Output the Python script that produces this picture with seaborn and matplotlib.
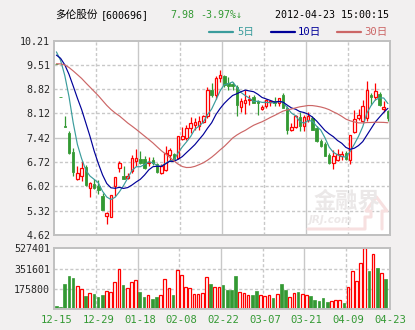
import numpy as np
import pandas as pd
import matplotlib
matplotlib.use("Agg")
import matplotlib.pyplot as plt
from matplotlib.lines import Line2D
import seaborn as sns

# Daily quotes of 600696, 2011-12-15 .. 2012-04-23
open_ = [9.53, 8.58, 7.76, 7.55, 7.01, 6.22, 6.31, 6.57, 5.96, 6.09,
         6.03, 5.74, 5.17, 5.15, 6.03, 6.55, 6.33, 6.27, 6.46, 6.74,
         6.81, 6.81, 6.68, 6.77, 6.65, 6.41, 6.48, 6.93, 6.96, 6.84,
         7.38, 7.41, 7.70, 7.79, 7.76, 7.86, 8.03, 8.79, 8.65, 9.13,
         9.19, 9.00, 8.96, 8.89, 8.30, 8.41, 8.49, 8.58, 8.46, 8.24,
         8.32, 8.44, 8.46, 8.41, 8.65, 8.27, 7.63, 7.72, 8.01, 7.76,
         7.94, 7.98, 7.70, 7.33, 7.25, 6.93, 6.69, 6.79, 6.88, 6.98,
         6.79, 7.57, 7.98, 7.89, 7.98, 8.65, 8.58, 8.67, 8.25, 8.20]
high = [9.53, 8.58, 8.05, 7.62, 7.11, 6.60, 6.74, 6.63, 6.14, 6.22,
        6.19, 5.82, 5.28, 5.78, 6.30, 6.74, 6.60, 6.41, 6.93, 7.08,
        7.03, 6.89, 6.87, 6.87, 6.69, 6.65, 7.17, 7.12, 6.98, 7.48,
        7.73, 7.79, 8.01, 7.98, 8.03, 8.08, 8.89, 8.98, 9.18, 9.37,
        9.22, 9.15, 9.03, 8.94, 8.56, 8.79, 8.65, 8.65, 8.51, 8.36,
        8.53, 8.51, 8.58, 8.56, 8.70, 8.32, 7.84, 8.08, 8.17, 8.08,
        8.17, 8.03, 7.76, 7.39, 7.29, 6.98, 7.06, 7.08, 7.03, 7.03,
        7.50, 8.22, 8.24, 8.51, 9.06, 8.70, 9.00, 8.72, 8.46, 8.22]
low = [9.53, 8.58, 7.72, 6.96, 6.31, 6.20, 6.17, 6.03, 5.72, 5.93,
       5.79, 5.33, 4.95, 5.13, 5.74, 6.44, 6.22, 6.24, 6.41, 6.60,
       6.67, 6.52, 6.60, 6.62, 6.39, 6.36, 6.45, 6.74, 6.77, 6.81,
       7.36, 7.36, 7.55, 7.65, 7.65, 7.84, 7.98, 8.60, 8.53, 9.03,
       8.89, 8.79, 8.79, 8.05, 8.17, 8.11, 8.36, 8.41, 8.08, 8.22,
       8.27, 8.32, 8.32, 8.32, 8.27, 7.52, 7.60, 7.70, 7.60, 7.60,
       7.87, 7.63, 7.29, 7.15, 6.89, 6.67, 6.52, 6.74, 6.79, 6.79,
       6.67, 7.55, 7.94, 7.86, 7.91, 8.36, 8.51, 8.32, 8.17, 7.89]
close = [9.53, 8.58, 7.72, 6.98, 6.44, 6.41, 6.55, 6.06, 6.12, 5.96,
         5.91, 5.33, 5.24, 5.76, 6.29, 6.68, 6.24, 6.31, 6.84, 6.84,
         6.69, 6.55, 6.71, 6.69, 6.43, 6.60, 6.98, 7.05, 6.81, 7.46,
         7.46, 7.70, 7.84, 7.86, 7.89, 8.03, 8.78, 8.65, 9.13, 9.22,
         8.94, 8.91, 8.91, 8.36, 8.46, 8.51, 8.53, 8.43, 8.41, 8.29,
         8.51, 8.48, 8.43, 8.56, 8.27, 7.65, 7.72, 8.05, 7.74, 8.01,
         8.03, 7.65, 7.31, 7.19, 6.90, 6.69, 6.90, 6.95, 6.95, 6.81,
         7.50, 7.95, 8.08, 8.32, 8.78, 8.58, 8.77, 8.36, 8.31, 7.98]
volume = [26000, 20000, 217000, 287000, 272000, 200000, 174000, 113000, 136000, 130000,
          107000, 122000, 156000, 148000, 232000, 348000, 209000, 180000, 232000, 252000,
          148000, 107000, 122000, 90000, 107000, 122000, 261000, 182000, 122000, 339000,
          295000, 191000, 182000, 130000, 130000, 139000, 278000, 217000, 188000, 188000,
          209000, 168000, 168000, 287000, 145000, 136000, 122000, 122000, 156000, 122000,
          110000, 122000, 96000, 127000, 217000, 168000, 104000, 139000, 148000, 127000,
          119000, 113000, 78000, 70000, 96000, 61000, 70000, 75000, 75000, 52000,
          191000, 330000, 243000, 397000, 527401, 330000, 475000, 356000, 310000, 261000]
# closes of the 29 sessions before 12-15, needed to start the moving averages
prior_close = [8.7, 8.6, 9.2, 9.4, 9.6, 9.8, 9.9, 9.8, 9.7, 9.6,
               9.5, 9.4, 9.3, 9.3, 9.2, 9.3, 9.4, 9.5, 9.6, 9.6,
               9.5, 9.6, 9.7, 9.8, 9.9, 9.8, 9.9, 10.0, 10.2]

price_ticks = [4.62, 5.32, 6.02, 6.72, 7.42, 8.12, 8.82, 9.51, 10.21]
volume_ticks = [175800, 351601, 527401]
date_labels = ["12-15", "12-29", "01-18", "02-08", "02-22",
               "03-07", "03-21", "04-09", "04-23"]
ma_windows = [5, 10, 30]

BG = "#f2f0f0"
GRID = "#c8c8c8"
FRAME = "#c0c0c0"
RED = "#ff0000"
GREEN = "#339933"
MA_COLORS = {"5日": "#3a9c9c", "10日": "#000099", "30日": "#cc6666"}
MONO = ["DejaVu Sans Mono", "Noto Sans CJK SC"]
CJK = ["Noto Sans CJK SC", "DejaVu Sans"]

sns.set_style("white")
plt.rcParams["font.family"] = ["DejaVu Sans", "Noto Sans CJK SC"]

o = np.array(open_)
h = np.array(high)
l = np.array(low)
c = np.array(close)
v = np.array(volume, dtype=float)
n = len(c)
x = np.arange(n)

prev_c = np.concatenate([[prior_close[-1]], c[:-1]])
up = (c > o) | ((c == o) & (c >= prev_c))
body_lo = np.minimum(o, c)
body_hi = np.maximum(o, c)

# moving averages
full = pd.Series(list(prior_close) + list(close))
ma_frames = []
for w in ma_windows:
    ma = full.rolling(w).mean().iloc[len(prior_close):].to_numpy()
    ma_frames.append(pd.DataFrame({"day": x, "value": ma, "series": f"{w}日"}))
ma_df = pd.concat(ma_frames, ignore_index=True)

W, H = 415, 330
fig = plt.figure(figsize=(W / 100, H / 100), dpi=100, facecolor=BG)
L, R = 54.3, 390.0
ax = fig.add_axes([L / W, 1 - 235 / H, (R - L) / W, (235 - 40.6) / H])
axv = fig.add_axes([L / W, 1 - 309 / H, (R - L) / W, (309 - 248.3) / H])

for a in (ax, axv):
    a.set_facecolor("white")
    a.set_xlim(-0.5, n - 0.5)
    for s in a.spines.values():
        s.set_color(FRAME)
        s.set_linewidth(1.4)
    # vertical grid every 10 sessions, alternating solid / dashed
    for k in range(1, 8):
        xv = -0.5 + k * n / 8
        if k % 2 == 0:
            a.axvline(xv, color=GRID, lw=1.0, zorder=0)
        else:
            a.axvline(xv, color=GRID, lw=1.0, ls=(0, (2.2, 1.6)), zorder=0)
    a.tick_params(length=0)

# price panel
ax.set_ylim(price_ticks[0], price_ticks[-1])
for p in price_ticks[1:-1]:
    if p == 7.42:
        ax.axhline(p, color=GRID, lw=1.0, zorder=0)
    else:
        ax.axhline(p, color=GRID, lw=1.0, ls=(0, (2.2, 1.6)), zorder=0)
ax.set_yticks(price_ticks)
ax.set_yticklabels([f"{p:.2f}" for p in price_ticks], fontfamily=MONO, fontsize=7.2)
ax.tick_params(axis="y", pad=3)
ax.set_xticks([])

# watermark
def px(X, Y):
    return ((X - L) / (R - L), (235 - Y) / (235 - 40.6))

logo = [px(*pt) for pt in [(308, 229), (365, 229), (365, 217), (371, 217), (371, 211),
                           (366, 211), (376.5, 197), (387, 211), (382, 211), (382, 229)]]
ax.add_line(Line2D([p[0] for p in logo], [p[1] for p in logo], transform=ax.transAxes,
                   color="#f7e0e0", lw=2.2, zorder=0.5))
ax.text(*px(347, 201), "金融界", transform=ax.transAxes, ha="center", va="center",
        fontsize=16, fontweight="bold", color="#ebe8e8", fontfamily=CJK, zorder=0.6)
ax.text(*px(331, 220), "JRJ.com", transform=ax.transAxes, ha="center", va="center",
        fontsize=7.5, fontweight="bold", fontstyle="italic", color="#ece8e8", zorder=0.6)

bw = 0.6
ax.bar(x[~up], (body_hi - body_lo)[~up], bottom=body_lo[~up], width=bw,
       color=GREEN, edgecolor=GREEN, linewidth=0.6, zorder=2)
ax.bar(x[up], (body_hi - body_lo)[up], bottom=body_lo[up], width=bw,
       facecolor="white", edgecolor=RED, linewidth=0.9, zorder=2)
wick_colors = np.where(up, RED, GREEN)
ax.vlines(x, l, body_lo, colors=wick_colors, lw=0.9, zorder=1.9)
ax.vlines(x, body_hi, h, colors=wick_colors, lw=0.9, zorder=1.9)

sns.lineplot(data=ma_df, x="day", y="value", hue="series", palette=MA_COLORS,
             linewidth=0.85, legend=False, ax=ax, zorder=3)
ax.set_xlabel("")
ax.set_ylabel("")
ax.set_xlim(-0.5, n - 0.5)

# volume panel
axv.set_ylim(0, volume_ticks[-1])
for t in volume_ticks[:-1]:
    axv.axhline(t, color=GRID, lw=1.0, ls=(0, (2.2, 1.6)), zorder=0)
vw = 0.66
axv.bar(x[~up], v[~up], width=vw, color=GREEN, edgecolor=GREEN, linewidth=0.5, zorder=2)
axv.bar(x[up], v[up], width=vw, facecolor="white", edgecolor=RED, linewidth=0.9, zorder=2)
axv.set_yticks(volume_ticks)
axv.set_yticklabels([str(t) for t in volume_ticks], fontfamily=MONO, fontsize=7.2)
axv.tick_params(axis="y", pad=3)
axv.set_xticks([-0.5 + k * n / 8 + 0.55 for k in range(9)])
axv.set_xticklabels(date_labels, fontfamily=MONO, fontsize=7.6, color=GREEN)
axv.tick_params(axis="x", pad=4)

# header
def fy(Y):
    return 1 - Y / H

fig.text(55 / W, fy(15), "多伦股份", fontfamily=CJK, fontsize=7.7, va="center", color="black")
fig.text(101 / W, fy(15), "[600696]", fontfamily=MONO, fontsize=7.2, va="center", color="black")
fig.text(170 / W, fy(15), "7.98", fontfamily=MONO, fontsize=7.2, va="center", color=GREEN)
fig.text(200 / W, fy(15), "-3.97%↓", fontfamily=MONO, fontsize=7.2, va="center", color=GREEN)
fig.text(389 / W, fy(15), "2012-04-23 15:00:15", fontfamily=MONO, fontsize=7.2,
         va="center", ha="right", color="black")

# legend row
for (label, color), (x0, x1, xt) in zip(MA_COLORS.items(),
                                        [(209, 233, 237), (271, 295, 298), (337, 361, 364)]):
    fig.add_artist(Line2D([x0 / W, x1 / W], [fy(32.3), fy(32.3)], color=color, lw=1.6,
                          transform=fig.transFigure))
    fig.text(xt / W, fy(32.3), label, fontfamily=MONO, fontsize=7.6, va="center", color=color)

fig.savefig("out.png", dpi=100, facecolor=BG)
